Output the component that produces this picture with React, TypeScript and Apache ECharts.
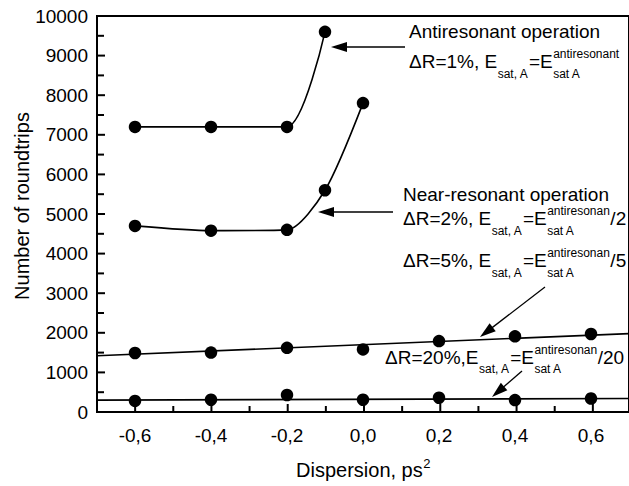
import { useEffect, useRef } from "react";
import * as echarts from "echarts";

const FAMILY = '"Liberation Sans", Arial, Helvetica, sans-serif';

// Axis ticks
const xMajorTicks = [-0.6, -0.4, -0.2, 0, 0.2, 0.4, 0.6];
const xMinorTicks = [-0.5, -0.3, -0.1, 0.1, 0.3, 0.5];
const yMajorTicks = [1000, 2000, 3000, 4000, 5000, 6000, 7000, 8000, 9000];
const yMinorTicks = [500, 1500, 2500, 3500, 4500, 5500, 6500, 7500, 8500, 9500];

// Antiresonant operation, ΔR = 1 %
const antiX = [-0.6, -0.4, -0.2, -0.1];
const antiY = [7200, 7200, 7200, 9600];

// Near-resonant operation, ΔR = 2 %
const nearX = [-0.6, -0.4, -0.2, -0.1, 0.0];
const nearY = [4700, 4580, 4600, 5600, 7800];

// ΔR = 5 % and ΔR = 20 %
const dispersion = [-0.6, -0.4, -0.2, 0.0, 0.2, 0.4, 0.6];
const dr5Y = [1490, 1500, 1620, 1580, 1790, 1910, 1970];
const dr20Y = [280, 310, 430, 310, 360, 300, 340];

// Linear fits through the 5 % and 20 % points
const fitX = [-0.7, 0.7];
const fit5Y = [1420, 1980];
const fit20Y = [300, 340];

const X_MIN = -0.7;
const X_MAX = 0.7;
const Y_MIN = 0;
const Y_MAX = 10000;

const GRID = { left: 97, top: 16, width: 534, height: 396 };

const zip = (xs: number[], ys: number[]) => xs.map((x, i) => [x, ys[i]]);

type Part = { t?: string; sub?: string; sup?: string };

const MAIN = 19;
const SMALL = 12;

let measureCtx: CanvasRenderingContext2D | null = null;
function textWidth(text: string, size: number): number {
  if (!measureCtx) measureCtx = document.createElement("canvas").getContext("2d");
  if (!measureCtx) return text.length * size * 0.55;
  measureCtx.font = `${size}px ${FAMILY}`;
  return measureCtx.measureText(text).width;
}

// text element placed by its baseline
function txt(text: string, x: number, baseline: number, size: number) {
  return {
    type: "text",
    x,
    y: baseline - 0.35 * size,
    silent: true,
    z: 10,
    style: {
      text,
      fill: "#000",
      font: `${size}px ${FAMILY}`,
      textAlign: "left",
      textVerticalAlign: "middle",
    },
  };
}

// formula line made of normal runs, subscripts and stacked super/subscripts
function formula(parts: Part[], x: number, baseline: number) {
  const els: any[] = [];
  let cx = x;
  for (const p of parts) {
    if (p.t) {
      els.push(txt(p.t, cx, baseline, MAIN));
      cx += textWidth(p.t, MAIN);
    } else {
      let w = 0;
      if (p.sup) {
        els.push(txt(p.sup, cx + 0.5, baseline - 10, SMALL));
        w = Math.max(w, textWidth(p.sup, SMALL));
      }
      if (p.sub) {
        els.push(txt(p.sub, cx + 0.5, baseline + 9.5, SMALL));
        w = Math.max(w, textWidth(p.sub, SMALL));
      }
      cx += w + 1;
    }
  }
  return els;
}

function arrow(x1: number, y1: number, tx: number, ty: number) {
  const dx = tx - x1;
  const dy = ty - y1;
  const len = Math.hypot(dx, dy);
  const ux = dx / len;
  const uy = dy / len;
  const headLen = 16;
  const halfW = 5;
  const bx = tx - ux * headLen;
  const by = ty - uy * headLen;
  return [
    {
      type: "line",
      silent: true,
      z: 10,
      shape: { x1, y1, x2: tx - ux * 8, y2: ty - uy * 8 },
      style: { stroke: "#000", lineWidth: 1.3 },
    },
    {
      type: "polygon",
      silent: true,
      z: 10,
      shape: {
        points: [
          [tx, ty],
          [bx - uy * halfW, by + ux * halfW],
          [bx + uy * halfW, by - ux * halfW],
        ],
      },
      style: { fill: "#000" },
    },
  ];
}

// inward tick marks along the bottom and left axes
function buildTicks() {
  const px = (v: number) => GRID.left + ((v - X_MIN) / (X_MAX - X_MIN)) * GRID.width;
  const py = (v: number) => GRID.top + GRID.height - ((v - Y_MIN) / (Y_MAX - Y_MIN)) * GRID.height;
  const y0 = GRID.top + GRID.height;
  const x0 = GRID.left;
  const tick = (x1: number, y1: number, x2: number, y2: number) => ({
    type: "line",
    silent: true,
    z: 100,
    shape: { x1, y1, x2, y2 },
    style: { stroke: "#000", lineWidth: 2 },
  });
  const els: any[] = [];
  xMajorTicks.forEach((v) => els.push(tick(px(v), y0, px(v), y0 - 8)));
  xMinorTicks.forEach((v) => els.push(tick(px(v), y0, px(v), y0 - 6)));
  yMajorTicks.forEach((v) => els.push(tick(x0, py(v), x0 + 8, py(v))));
  yMinorTicks.forEach((v) => els.push(tick(x0, py(v), x0 + 7, py(v))));
  return els;
}

function buildGraphics() {
  const els: any[] = [];

  els.push(txt("Antiresonant operation", 409, 38.5, MAIN));
  els.push(
    ...formula(
      [{ t: "ΔR=1%, E" }, { sub: "sat, A" }, { t: "=E" }, { sup: "antiresonant", sub: "sat A" }],
      409,
      68.5
    )
  );

  els.push(txt("Near-resonant operation", 403, 201.5, MAIN));
  els.push(
    ...formula(
      [{ t: "ΔR=2%, E" }, { sub: "sat, A" }, { t: "=E" }, { sup: "antiresonan", sub: "sat A" }, { t: "/2" }],
      403,
      225.5
    )
  );

  els.push(
    ...formula(
      [{ t: "ΔR=5%, E" }, { sub: "sat, A" }, { t: "=E" }, { sup: "antiresonan", sub: "sat A" }, { t: "/5" }],
      403,
      267.5
    )
  );

  els.push(
    ...formula(
      [{ t: "ΔR=20%,E" }, { sub: "sat, A" }, { t: "=E" }, { sup: "antiresonan", sub: "sat A" }, { t: "/20" }],
      385,
      364
    )
  );

  els.push(...arrow(405, 47, 331, 47));
  els.push(...arrow(393, 212, 318, 212));
  els.push(...arrow(545, 287, 480, 337));
  els.push(...arrow(522, 371, 492, 397));

  // axis titles
  els.push({
    type: "text",
    x: 22,
    y: 206,
    rotation: Math.PI / 2,
    silent: true,
    style: {
      text: "Number of roundtrips",
      fill: "#000",
      font: `20px ${FAMILY}`,
      textAlign: "center",
      textVerticalAlign: "middle",
    },
  });
  const titleMain = "Dispersion, ps";
  const titleW = textWidth(titleMain, 20) + textWidth("2", 13);
  const tx = 363 - titleW / 2;
  els.push(txt(titleMain, tx, 477, 20));
  els.push(txt("2", tx + textWidth(titleMain, 20) + 0.5, 468, 13));

  els.push(...buildTicks());
  return els;
}

const fmtX = (v: number) => v.toFixed(1).replace(".", ",");
const fmtY = (v: number) => String(v);

export default function App() {
  const ref = useRef<HTMLDivElement>(null);

  useEffect(() => {
    if (!ref.current) return;
    const chart = echarts.init(ref.current, undefined, { renderer: "svg" });

    const dotSeries = (name: string, data: number[][]) => ({
      name,
      type: "scatter",
      data,
      symbol: "circle",
      symbolSize: 12.5,
      itemStyle: { color: "#000", opacity: 1 },
      z: 5,
    });

    const lineSeries = (name: string, data: number[][], smooth: number | boolean) => ({
      name,
      type: "line",
      data,
      smooth,
      showSymbol: false,
      symbol: "none",
      lineStyle: { color: "#000", width: 1.6 },
      z: 3,
    });

    chart.setOption({
      animation: false,
      backgroundColor: "#fff",
      textStyle: { fontFamily: FAMILY },
      grid: {
        ...GRID,
        show: true,
        borderColor: "#000",
        borderWidth: 2,
      },
      xAxis: {
        type: "value",
        min: X_MIN,
        max: X_MAX,
        position: "bottom",
        axisLine: { show: true, onZero: false, lineStyle: { color: "#000", width: 2 } },
        axisTick: { show: false },
        axisLabel: {
          show: true,
          customValues: xMajorTicks,
          formatter: fmtX,
          color: "#000",
          fontSize: MAIN,
          fontFamily: FAMILY,
          margin: 14,
        },
        splitLine: { show: false },
      },
      yAxis: {
        type: "value",
        min: Y_MIN,
        max: Y_MAX,
        interval: 1000,
        axisLine: { show: true, onZero: false, lineStyle: { color: "#000", width: 2 } },
        axisTick: { show: false },
        axisLabel: { color: "#000", fontSize: MAIN, fontFamily: FAMILY, margin: 9, formatter: fmtY },
        splitLine: { show: false },
      },
      series: [
        lineSeries("Antiresonant", zip(antiX, antiY), 0.25),
        dotSeries("Antiresonant points", zip(antiX, antiY)),
        lineSeries("Near-resonant", zip(nearX, nearY), 0.25),
        dotSeries("Near-resonant points", zip(nearX, nearY)),
        lineSeries("ΔR=5% fit", zip(fitX, fit5Y), false),
        dotSeries("ΔR=5%", zip(dispersion, dr5Y)),
        lineSeries("ΔR=20% fit", zip(fitX, fit20Y), false),
        dotSeries("ΔR=20%", zip(dispersion, dr20Y)),
      ],
      graphic: { elements: buildGraphics() },
    });

    return () => chart.dispose();
  }, []);

  return (
    <div
      ref={ref}
      style={{ position: "absolute", left: 0, top: 0, width: 629, height: 486, background: "#fff" }}
    />
  );
}
